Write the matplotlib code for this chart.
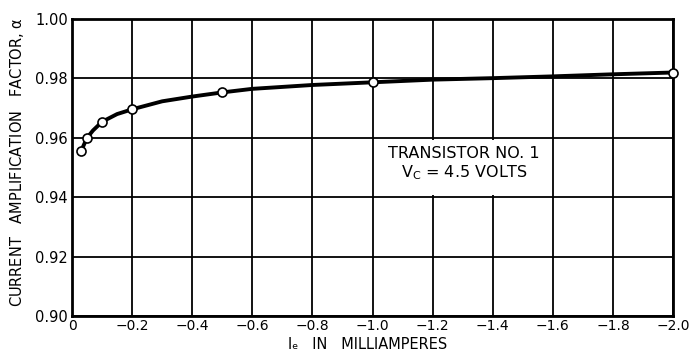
from matplotlib import pyplot as plt
from matplotlib.patches import Rectangle
import numpy as np
#
# measured points (open circles) read off the chart
# -------------------------------------------------
#
ie_pts = [-0.03, -0.05, -0.10, -0.20, -0.50, -1.00, -2.00]
alpha_pts = [0.9555, 0.9600, 0.9654, 0.9696, 0.9753, 0.9787, 0.9820]
#
# the drawn curve at more places
# --------------------------------------------------
#
ie_curve = [-0.03, -0.05, -0.07, -0.10, -0.15, -0.20, -0.30, -0.40, -0.50,
            -0.60, -0.80, -1.00, -1.20, -1.40, -1.60, -1.80, -2.00]
alpha_curve = [0.9555, 0.9600, 0.9625, 0.9654, 0.9680, 0.9696, 0.9723, 0.9739,
               0.9753, 0.9765, 0.9778, 0.9787, 0.9796, 0.9801, 0.9807, 0.9814, 0.9820]
#
# axis ticks
# ----------
#
xticks = [0, -0.2, -0.4, -0.6, -0.8, -1.0, -1.2, -1.4, -1.6, -1.8, -2.0]
xticklabels = ['0'] + ['\u2212%.1f' % abs(v) for v in xticks[1:]]
yticks = [0.90, 0.92, 0.94, 0.96, 0.98, 1.00]
yticklabels = ['%.2f' % v for v in yticks]

plt.rcParams['font.family'] = ['DejaVu Sans']
plt.rcParams['mathtext.default'] = 'regular'

fig = plt.figure(figsize=(6.89, 3.53), dpi=100)
ax = fig.add_axes([0.1045, 0.1048, 0.8723, 0.8412])

ax.set_xlim(0, -2.0)
ax.set_ylim(0.90, 1.00)
ax.set_xticks(xticks)
ax.set_xticklabels(xticklabels, fontsize=10)
ax.set_yticks(yticks)
ax.set_yticklabels(yticklabels, fontsize=10.5)
ax.tick_params(axis='x', length=0, pad=2)
ax.tick_params(axis='y', length=0, pad=3)
ax.grid(True, color='black', linewidth=1.3)
for s in ax.spines.values():
    s.set_linewidth(2.0)

# white box holding the note
ax.add_patch(Rectangle((-1.012, 0.9407), -0.576, 0.0186, facecolor='white',
                       edgecolor='none', zorder=2))
ax.text(-1.305, 0.9512, 'TRANSISTOR NO. 1\nV$_C$ = 4.5 VOLTS', ha='center',
        va='center', fontsize=11.5, linespacing=1.1, zorder=3)

ax.plot(ie_curve, alpha_curve, color='black', linewidth=2.8, zorder=4,
        solid_capstyle='round')
ax.plot(ie_pts, alpha_pts, 'o', markersize=6.5, markerfacecolor='white',
        markeredgecolor='black', markeredgewidth=1.2, zorder=5, clip_on=False)

# axis titles placed by hand to match the lettering of the original
fig.text(0.533, 0.004, 'I\u2091   IN   MILLIAMPERES', ha='center',
         va='bottom', fontsize=10.5)
fig.text(0.025, 0.541, 'CURRENT   AMPLIFICATION   FACTOR, $\\alpha$',
         ha='center', va='center', rotation=90, fontsize=10.5)

fig.savefig('out.png', dpi=100)
